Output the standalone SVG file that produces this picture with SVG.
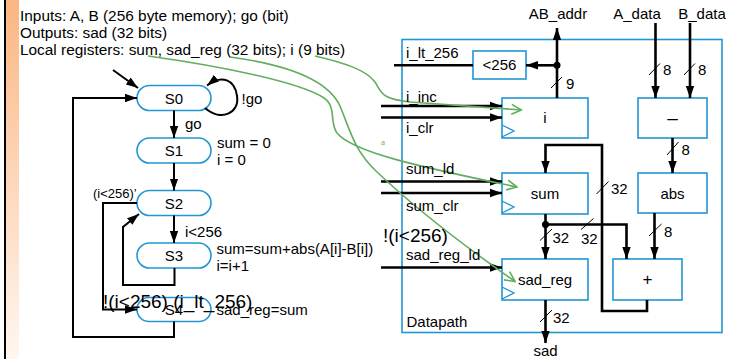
<svg xmlns="http://www.w3.org/2000/svg" width="736" height="359" viewBox="0 0 736 359">
<style>
text{font-family:"Liberation Sans",Arial,sans-serif;font-size:15px;fill:#000}
.c{text-anchor:middle}
.hd{font-size:15.4px}
.st{fill:#fff;stroke:#2196d3;stroke-width:1.6}
.bx{fill:#fff;stroke:#2196d3;stroke-width:1.6}
.clk{fill:none;stroke:#2196d3;stroke-width:1.3}
.w{fill:none;stroke:#000;stroke-width:2}
.t{fill:none;stroke:#000;stroke-width:2.6}
.sl{fill:none;stroke:#000;stroke-width:1}
.g{fill:none;stroke:#62ad5f;stroke-width:1.6}
.big{font-size:19px}
.sm{font-size:13px}
</style>
<defs>
<linearGradient id="lg" x1="0" y1="0" x2="0" y2="1">
<stop offset="0" stop-color="#fbb683"/>
<stop offset="1" stop-color="#fff7f0"/>
</linearGradient>
<marker id="ah" viewBox="0 0 12 10" refX="12" refY="5" markerWidth="12" markerHeight="10" markerUnits="userSpaceOnUse" orient="auto">
<path d="M0,0.8 L12,5 L0,9.2 z" fill="#000"/>
</marker>
<marker id="ga" viewBox="0 0 12 12" refX="11" refY="6" markerWidth="12" markerHeight="12" markerUnits="userSpaceOnUse" orient="auto">
<path d="M1,1 L11,6 L1,11" fill="none" stroke="#62ad5f" stroke-width="1.6"/>
</marker>
</defs>
<rect x="0" y="0" width="736" height="359" fill="#fff"/>
<rect x="6" y="0" width="13" height="359" fill="url(#lg)"/>
<rect x="4" y="0" width="2" height="359" fill="#000"/>

<g id="header">
<text class="hd" x="20" y="20.5">Inputs: A, B (256 byte memory); go (bit)</text>
<text class="hd" x="20" y="37.5">Outputs: sad (32 bits)</text>
<text class="hd" x="20" y="54.5">Local registers: sum, sad_reg (32 bits); i (9 bits)</text>
</g>

<g id="S0"><rect class="st" x="137" y="85.5" width="74" height="25" rx="12.5"/><text class="c" x="174" y="103.5">S0</text></g>
<g id="S1"><rect class="st" x="137" y="138" width="74" height="25" rx="12.5"/><text class="c" x="174" y="156">S1</text><text x="217" y="147.5">sum = 0</text><text x="217" y="165">i = 0</text></g>
<g id="S2"><rect class="st" x="137" y="190.5" width="74" height="25" rx="12.5"/><text class="c" x="174" y="208.5">S2</text></g>
<g id="S3"><rect class="st" x="137" y="243" width="74" height="25" rx="12.5"/><text class="c" x="174" y="261">S3</text><text x="216.5" y="254">sum=sum+abs(A[i]-B[i])</text><text x="216.5" y="271">i=i+1</text></g>
<g id="S4"><rect class="st" x="137" y="297.5" width="74" height="24" rx="12"/><text class="c" x="174" y="315">S4</text><text x="216.5" y="315">sad_reg=sum</text></g>

<g id="datapath"><rect class="bx" x="402" y="39.5" width="320" height="293"/><text x="406.5" y="327">Datapath</text></g>
<g id="lt256"><rect class="bx" x="473" y="51" width="53" height="28"/><text class="c" x="499.5" y="70">&lt;256</text></g>
<g id="reg_i"><rect class="bx" x="502" y="98" width="86" height="40"/><polyline class="clk" points="502,125 514,131 502,137"/><text class="c" x="545" y="123">i</text></g>
<g id="sub"><rect class="bx" x="638" y="98" width="69" height="40"/><text class="c" x="672.5" y="124" style="font-size:19px">–</text></g>
<g id="reg_sum"><rect class="bx" x="502" y="173" width="86" height="41"/><polyline class="clk" points="502,201 514,207 502,213"/><text class="c" x="545" y="198.5">sum</text></g>
<g id="abs"><rect class="bx" x="638" y="173" width="69" height="40"/><text class="c" x="672.5" y="198.5">abs</text></g>
<g id="reg_sad"><rect class="bx" x="502" y="259" width="86" height="41"/><polyline class="clk" points="502,287 514,293 502,299"/><text class="c" x="545" y="285">sad_reg</text></g>
<g id="add"><rect class="bx" x="613" y="259" width="69" height="41"/><text class="c" x="647.5" y="285" style="font-size:17px">+</text></g>

<g id="connectors">
<path class="w" d="M113,70 L138,88" marker-end="url(#ah)"/>
<path class="w" d="M205,108 C221,122 240,113 237,96 C235,80 222,74 207,85.5" marker-end="url(#ah)"/>
<path class="w" d="M174,110.5 V138" marker-end="url(#ah)"/>
<path class="w" d="M174,163 V190.5" marker-end="url(#ah)"/>
<path class="w" d="M174,215.5 V243" marker-end="url(#ah)"/>
<path class="w" d="M174.5,268 V285 H123 V227 L139,214" marker-end="url(#ah)"/>
<path class="w" d="M137,203 H103 V309.5 H137" marker-end="url(#ah)"/>
<path class="w" d="M174,321.5 V337 H73 V98 H137" marker-end="url(#ah)"/>
<text x="241.5" y="104">!go</text>
<text x="185" y="128.5">go</text>
<text class="sm" x="93" y="198">(i&lt;256)’</text>
<text x="185" y="237">i&lt;256</text>
<path class="t" d="M394,65.3 H473"/>
<path class="t" d="M557,65.3 H526" marker-end="url(#ah)"/>
<path class="t" d="M557,98 V28" marker-end="url(#ah)"/>
<circle cx="557" cy="65.3" r="3.5" fill="#000"/>
<path class="sl" d="M551,88 L562,77"/>
<text x="566" y="88.5">9</text>
<path class="t" d="M655.5,23 V98" marker-end="url(#ah)"/>
<path class="t" d="M690,23 V98" marker-end="url(#ah)"/>
<path class="sl" d="M649,75 L660,63.5"/><text x="663" y="74.5">8</text>
<path class="sl" d="M684,75 L695,63.5"/><text x="698" y="74.5">8</text>
<path class="t" d="M381,106 H502" marker-end="url(#ah)"/>
<path class="t" d="M381,117.5 H502" marker-end="url(#ah)"/>
<path class="t" d="M381,181.5 H502" marker-end="url(#ah)"/>
<path class="t" d="M381,193 H502" marker-end="url(#ah)"/>
<path class="t" d="M381,267.5 H502" marker-end="url(#ah)"/>
<path class="t" d="M672.5,138 V173" marker-end="url(#ah)"/>
<path class="sl" d="M667,155 L678.5,142"/><text x="681.5" y="154.5">8</text>
<path class="t" d="M654.5,213 V259" marker-end="url(#ah)"/>
<path class="sl" d="M649,236 L661.5,224"/><text x="664" y="236.5">8</text>
<path class="t" d="M545.5,214 V259" marker-end="url(#ah)"/>
<circle cx="545.5" cy="224.5" r="3.5" fill="#000"/>
<path class="t" d="M545.5,224.5 H626.5 V259" marker-end="url(#ah)"/>
<path class="sl" d="M540,240.5 L552,229"/><text x="552.5" y="242.5">32</text>
<path class="sl" d="M581,229.5 L593.5,218.5"/><text x="581" y="243.5">32</text>
<path class="t" d="M647,300 V311 H602 V145 H545.5 V173" marker-end="url(#ah)"/>
<path class="sl" d="M596.5,194 L608.5,181.5"/><text x="611" y="194">32</text>
<path class="t" d="M545.5,300 V343" marker-end="url(#ah)"/>
<path class="sl" d="M540,322 L552,310"/><text x="553" y="322.5">32</text>
<path class="g" d="M148,56 C220,66 300,82 324,98 C337,107 329,122 337,133 C352,152 420,167 517,187" marker-end="url(#ga)"/>
<path class="g" d="M230,57 C290,65 328,80 340,106 C350,130 354,150 376,171 C420,213 470,250 515,281.5" marker-end="url(#ga)"/>
<path class="g" d="M315,56 C345,63 366,70 375,82 C382,93 381,99 410,102 C450,105 490,108 521.5,110" marker-end="url(#ga)"/>
<text x="381" y="145" style="font-size:7px;font-style:italic;fill:#62ad5f">a</text>
</g>

<g id="labels">
<text class="c" x="558" y="19">AB_addr</text>
<text class="c" x="637" y="19">A_data</text>
<text class="c" x="702" y="19">B_data</text>
<text x="406" y="58">i_lt_256</text>
<text x="406" y="101.5">i_inc</text>
<text x="406" y="133">i_clr</text>
<text x="406" y="174">sum_ld</text>
<text x="406" y="211">sum_clr</text>
<text x="406" y="259.5">sad_reg_ld</text>
<text class="c" x="545.5" y="356">sad</text>
<text class="big" x="383" y="242">!(i&lt;256)</text>
<text class="big" x="103" y="308">!(i&lt;256) (i_lt_256)</text>
</g>
</svg>
